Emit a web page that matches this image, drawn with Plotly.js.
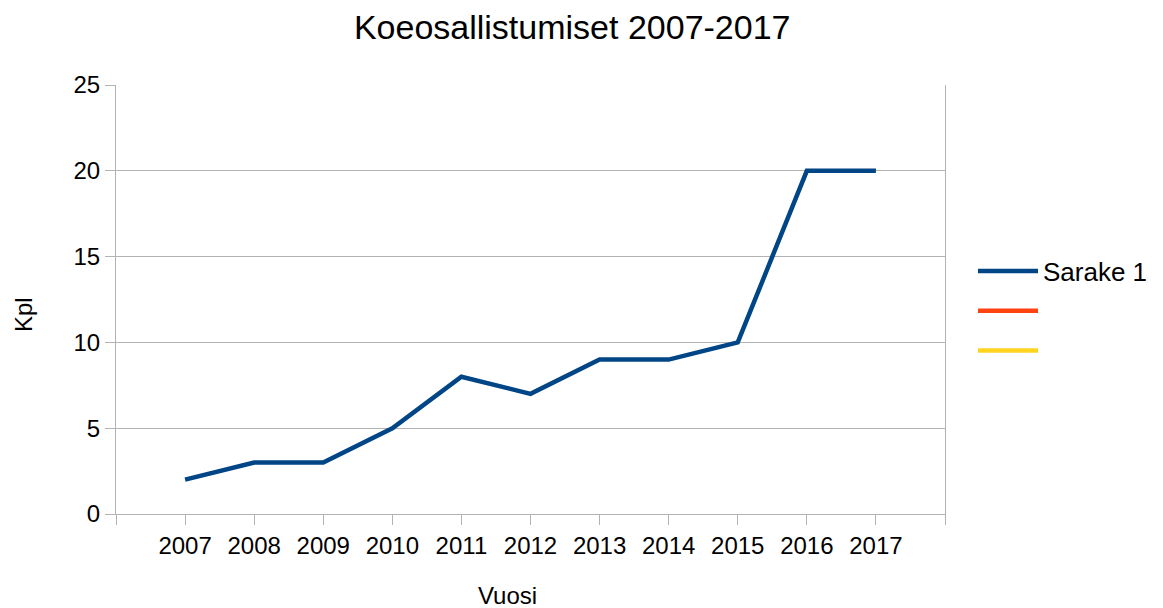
<!DOCTYPE html>
<html><head><meta charset="utf-8">
<script src="https://cdn.plot.ly/plotly-3.0.1.min.js"></script>
<style>html,body{margin:0;padding:0;background:#fff}#chart{width:1163px;height:608px}</style>
</head><body><div id="chart"></div>
<script>
const years = [2007,2008,2009,2010,2011,2012,2013,2014,2015,2016,2017];
const sarake1 = [2,3,3,5,8,7,9,9,10,20,20];
const sarake2 = [null,null,null,null,null,null,null,null,null,null,null];
const sarake3 = [null,null,null,null,null,null,null,null,null,null,null];
const tickVals = [2006,2007,2008,2009,2010,2011,2012,2013,2014,2015,2016,2017,2018];
const tickText = ['','2007','2008','2009','2010','2011','2012','2013','2014','2015','2016','2017',''];

const traces = [
  {x: years, y: sarake1, name: 'Sarake 1', legendgroup: 'a', type: 'scatter', mode: 'lines', line: {color: '#004586', width: 4.5}},
  {x: years, y: sarake2, name: ' ', legendgroup: 'b', type: 'scatter', mode: 'lines', line: {color: '#ff420e', width: 4.5}},
  {x: years, y: sarake3, name: ' ', legendgroup: 'c', type: 'scatter', mode: 'lines', line: {color: '#ffd320', width: 4.5}}
];
const layout = {
  width: 1163, height: 608,
  margin: {l: 116, r: 218, t: 85, b: 94, autoexpand: false},
  paper_bgcolor: '#fff', plot_bgcolor: '#fff',
  font: {family: 'Liberation Sans, Arial, sans-serif', size: 24, color: '#000'},
  title: {text: 'Koeosallistumiset 2007-2017', font: {size: 34, color: '#000'}, x: 0.492, xanchor: 'center', y: 0.955, yanchor: 'middle'},
  xaxis: {
    range: [2006, 2018], tickmode: 'array', tickvals: tickVals, ticktext: tickText,
    showgrid: false, zeroline: false, showline: true, linecolor: '#b3b3b3', linewidth: 1,
    ticks: 'outside', ticklen: 10, tickcolor: '#b3b3b3', tickfont: {size: 24}
  },
  yaxis: {
    range: [0, 25], tickvals: [0,5,10,15,20,25], showgrid: true, gridcolor: '#b3b3b3', gridwidth: 1,
    zeroline: false, showline: true, mirror: true, linecolor: '#b3b3b3', linewidth: 1,
    ticks: 'outside', ticklen: 10, tickcolor: '#b3b3b3', tickfont: {size: 24}
  },
  annotations: [
    {text: 'Vuosi', xref: 'paper', yref: 'paper', x: (507-116)/829, y: -(595-514)/429, xanchor: 'center', yanchor: 'middle', showarrow: false, font: {size: 24}},
    {text: 'Kpl', xref: 'paper', yref: 'paper', x: -(116-23)/829, y: (514-315)/429, xanchor: 'center', yanchor: 'middle', textangle: -90, showarrow: false, font: {size: 24}}
  ],
  showlegend: true,
  legend: {x: (973-116)/829, xanchor: 'left', y: (514-311)/429, yanchor: 'middle', font: {size: 26}, itemwidth: 60, tracegroupgap: 3, bgcolor: 'rgba(0,0,0,0)'}
};
Plotly.newPlot('chart', traces, layout, {displayModeBar: false, staticPlot: true});
</script></body></html>
